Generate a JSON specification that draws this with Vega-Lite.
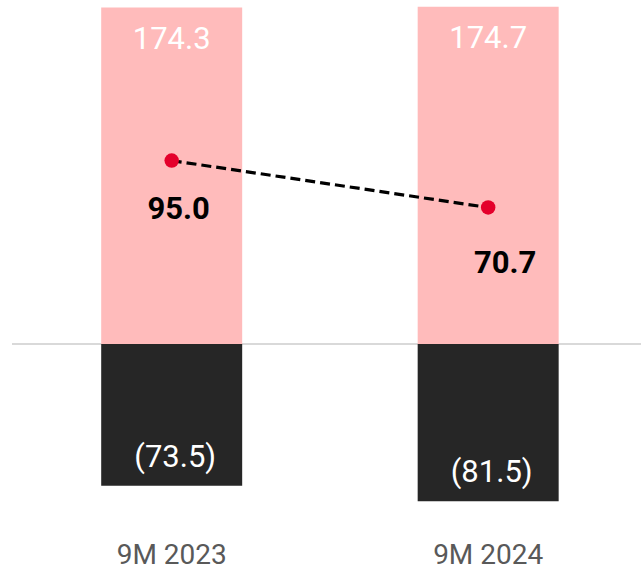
{
  "$schema": "https://vega.github.io/schema/vega-lite/v6.json",
  "width": 629,
  "height": 520,
  "autosize": {"type": "none"},
  "padding": {"left": 12, "top": 0, "right": 0, "bottom": 50},
  "background": "white",
  "config": {"view": {"stroke": null}, "font": "Roboto"},
  "datasets": {
    "bars": [
      {"period": "9M 2023", "kind": "pos", "value": 174.3, "label": "174.3"},
      {"period": "9M 2023", "kind": "neg", "value": -73.5, "label": "(73.5)"},
      {"period": "9M 2024", "kind": "pos", "value": 174.7, "label": "174.7"},
      {"period": "9M 2024", "kind": "neg", "value": -81.5, "label": "(81.5)"}
    ],
    "line": [
      {"period": "9M 2023", "value": 95.0, "label": "95.0"},
      {"period": "9M 2024", "value": 70.7, "label": "70.7"}
    ]
  },
  "encoding": {
    "x": {
      "field": "period",
      "type": "nominal",
      "sort": ["9M 2023", "9M 2024"],
      "scale": {"paddingInner": 0.5545, "paddingOuter": 0.271, "align": 0.52},
      "axis": {
        "title": null,
        "domain": false,
        "ticks": false,
        "labelAngle": 0,
        "labelFontSize": 28,
        "labelColor": "#595959",
        "labelPadding": 21,
        "labelBaseline": "top"
      }
    }
  },
  "layer": [
    {
      "data": {"values": [{"z": 0}]},
      "mark": {"type": "rule", "color": "#D9D9D9", "strokeWidth": 2},
      "encoding": {
        "x": null,
        "y": {"field": "z", "type": "quantitative", "scale": {"domain": [-91.2, 178.2], "nice": false, "zero": false}, "axis": null}
      }
    },
    {
      "data": {"name": "bars"},
      "mark": {"type": "bar"},
      "encoding": {
        "y": {"field": "value", "type": "quantitative", "stack": null, "scale": {"domain": [-91.2, 178.2], "nice": false, "zero": false}, "axis": null},
        "y2": {"datum": 0},
        "color": {"field": "kind", "type": "nominal", "scale": {"domain": ["pos", "neg"], "range": ["#FFBBBB", "#262626"]}, "legend": null}
      }
    },
    {
      "data": {"name": "bars"},
      "transform": [{"filter": "datum.kind == 'pos'"}],
      "mark": {"type": "text", "color": "white", "fontSize": 31, "baseline": "middle", "dy": 32},
      "encoding": {
        "y": {"field": "value", "type": "quantitative", "scale": {"domain": [-91.2, 178.2], "nice": false, "zero": false}, "axis": null},
        "text": {"field": "label"}
      }
    },
    {
      "data": {"name": "bars"},
      "transform": [{"filter": "datum.kind == 'neg'"}],
      "mark": {"type": "text", "color": "white", "fontSize": 31, "baseline": "middle", "dy": -28, "dx": 3.5},
      "encoding": {
        "y": {"field": "value", "type": "quantitative", "scale": {"domain": [-91.2, 178.2], "nice": false, "zero": false}, "axis": null},
        "text": {"field": "label"}
      }
    },
    {
      "data": {"name": "line"},
      "mark": {"type": "line", "color": "black", "strokeWidth": 3.2, "strokeDash": [10, 5]},
      "encoding": {
        "y": {"field": "value", "type": "quantitative", "scale": {"domain": [-91.2, 178.2], "nice": false, "zero": false}, "axis": null}
      }
    },
    {
      "data": {"name": "line"},
      "mark": {"type": "circle", "color": "#E4002B", "size": 210, "opacity": 1},
      "encoding": {
        "y": {"field": "value", "type": "quantitative", "scale": {"domain": [-91.2, 178.2], "nice": false, "zero": false}, "axis": null}
      }
    },
    {
      "data": {"name": "line"},
      "transform": [{"filter": "datum.period == '9M 2023'"}],
      "mark": {"type": "text", "color": "black", "fontSize": 31, "fontWeight": "bold", "baseline": "middle", "dy": 49, "dx": 7},
      "encoding": {
        "y": {"field": "value", "type": "quantitative", "scale": {"domain": [-91.2, 178.2], "nice": false, "zero": false}, "axis": null},
        "text": {"field": "label"}
      }
    },
    {
      "data": {"name": "line"},
      "transform": [{"filter": "datum.period == '9M 2024'"}],
      "mark": {"type": "text", "color": "black", "fontSize": 31, "fontWeight": "bold", "baseline": "middle", "dy": 57, "dx": 17},
      "encoding": {
        "y": {"field": "value", "type": "quantitative", "scale": {"domain": [-91.2, 178.2], "nice": false, "zero": false}, "axis": null},
        "text": {"field": "label"}
      }
    }
  ]
}
